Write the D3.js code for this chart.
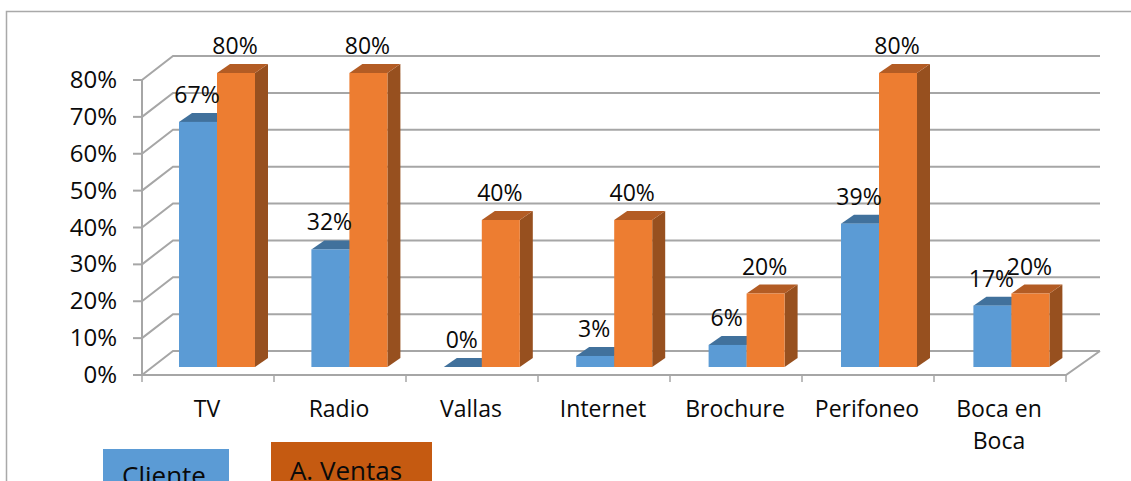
<!DOCTYPE html>
<html><head><meta charset="utf-8">
<script src="https://cdn.jsdelivr.net/npm/d3@7"></script>
<style>html,body{margin:0;padding:0;background:#fff;overflow:hidden}svg{display:block}text{font-family:"Open Sans",Lato,sans-serif;fill:#0a0a0a}</style>
</head><body><svg id="c" width="1131" height="481"></svg>
<script>
const categories=["TV","Radio","Vallas","Internet","Brochure","Perifoneo","Boca en Boca"];
const cliente=[66.7,32,0,3,6,39,16.7];
const ventas=[80,80,40,40,20,80,20];
const tickValues=[0,10,20,30,40,50,60,70,80];
const seriesNames=["Cliente","A. Ventas"];
const svg=d3.select("#c");
const dx=31,dy=-24;
const x=d3.scaleBand().domain(categories).range([142,1066]);
const barX=d3.scaleBand().domain(categories).range([142,142+7*132.4]);
const y=d3.scaleLinear().domain([0,80]).range([375,80]);
const barY=d3.scaleLinear().domain([0,80]).range([367,73]);
const pct=d3.format(".0f");
const grey="#a6a6a6";
svg.append("path").attr("d","M6.5 481V11.5H1131").attr("fill","none").attr("stroke","#a9a9a9").attr("stroke-width",1.5);
const grid=svg.append("g").attr("fill","none").attr("stroke",grey).attr("stroke-width",2);
tickValues.forEach(t=>{
  grid.append("path").attr("d",`M${x.range()[0]} ${y(t)}L${x.range()[0]+dx} ${y(t)+dy}H${x.range()[1]+34}`);
});
grid.append("path").attr("d",`M${x.range()[0]} ${y(0)}V${y(80)}`);
grid.append("path").attr("d",`M${x.range()[0]} ${y(0)}H${x.range()[1]}L${x.range()[1]+34} ${y(0)+dy}`);
tickValues.forEach(t=>grid.append("path").attr("d",`M133 ${y(t)}H${x.range()[0]}`));
const ax=svg.append("g");
[...categories.map(c=>x(c)),x.range()[1]].forEach(px=>ax.append("line").attr("x1",px).attr("x2",px).attr("y1",y(0)).attr("y2",y(0)+7).attr("stroke",grey).attr("stroke-width",1.5));
tickValues.forEach(t=>svg.append("text").attr("x",117).attr("y",y(t)+8).attr("text-anchor","end").attr("font-size",24).text(t+"%"));
categories.forEach(c=>{
  const cx=x(c)+x.bandwidth()/2-1, parts=c==="Boca en Boca"?["Boca en","Boca"]:[c];
  parts.forEach((p,i)=>svg.append("text").attr("x",cx).attr("y",417+i*32).attr("text-anchor","middle").attr("font-size",23).text(p));
});
const bw=38,off=37,d={x:13,y:-9};
function bar(v,bx,front,top,side){
  const yT=barY(v),yB=barY(0);
  const g=svg.append("g");
  g.append("path").attr("d",`M${bx+bw} ${yT}l${d.x} ${d.y}V${yB+d.y}l${-d.x} ${-d.y}Z`).attr("fill",side);
  g.append("path").attr("d",`M${bx} ${yT}l${d.x} ${d.y}h${bw}l${-d.x} ${-d.y}Z`).attr("fill",top);
  if(v>0)g.append("rect").attr("x",bx).attr("y",yT).attr("width",bw).attr("height",yB-yT).attr("fill",front);
}
categories.forEach((c,i)=>bar(cliente[i],barX(c)+off,"#5b9bd5","#41719c","#41719c"));
categories.forEach((c,i)=>bar(ventas[i],barX(c)+off+bw,"#ed7d31","#b35c24","#97501f"));
const lab=svg.append("g").attr("font-size",23).attr("text-anchor","middle");
categories.forEach((c,i)=>{
  const b=barX(c)+off;
  lab.append("text").attr("x",b+18).attr("y",barY(cliente[i])-19).text(pct(cliente[i])+"%");
  lab.append("text").attr("x",b+bw+18).attr("y",barY(ventas[i])-19).text(ventas[i]+"%");
});
const legend=[{x:103,y:449,w:126,c:"#5b9bd5",tx:164,ty:485},{x:271,y:442,w:161,c:"#c55a11",tx:346,ty:480}];
legend.forEach((l,i)=>{
  svg.append("rect").attr("x",l.x).attr("y",l.y).attr("width",l.w).attr("height",481-l.y).attr("fill",l.c);
  svg.append("text").attr("x",l.tx).attr("y",l.ty).attr("text-anchor","middle").attr("font-size",26).text(seriesNames[i]);
});
</script></body></html>
